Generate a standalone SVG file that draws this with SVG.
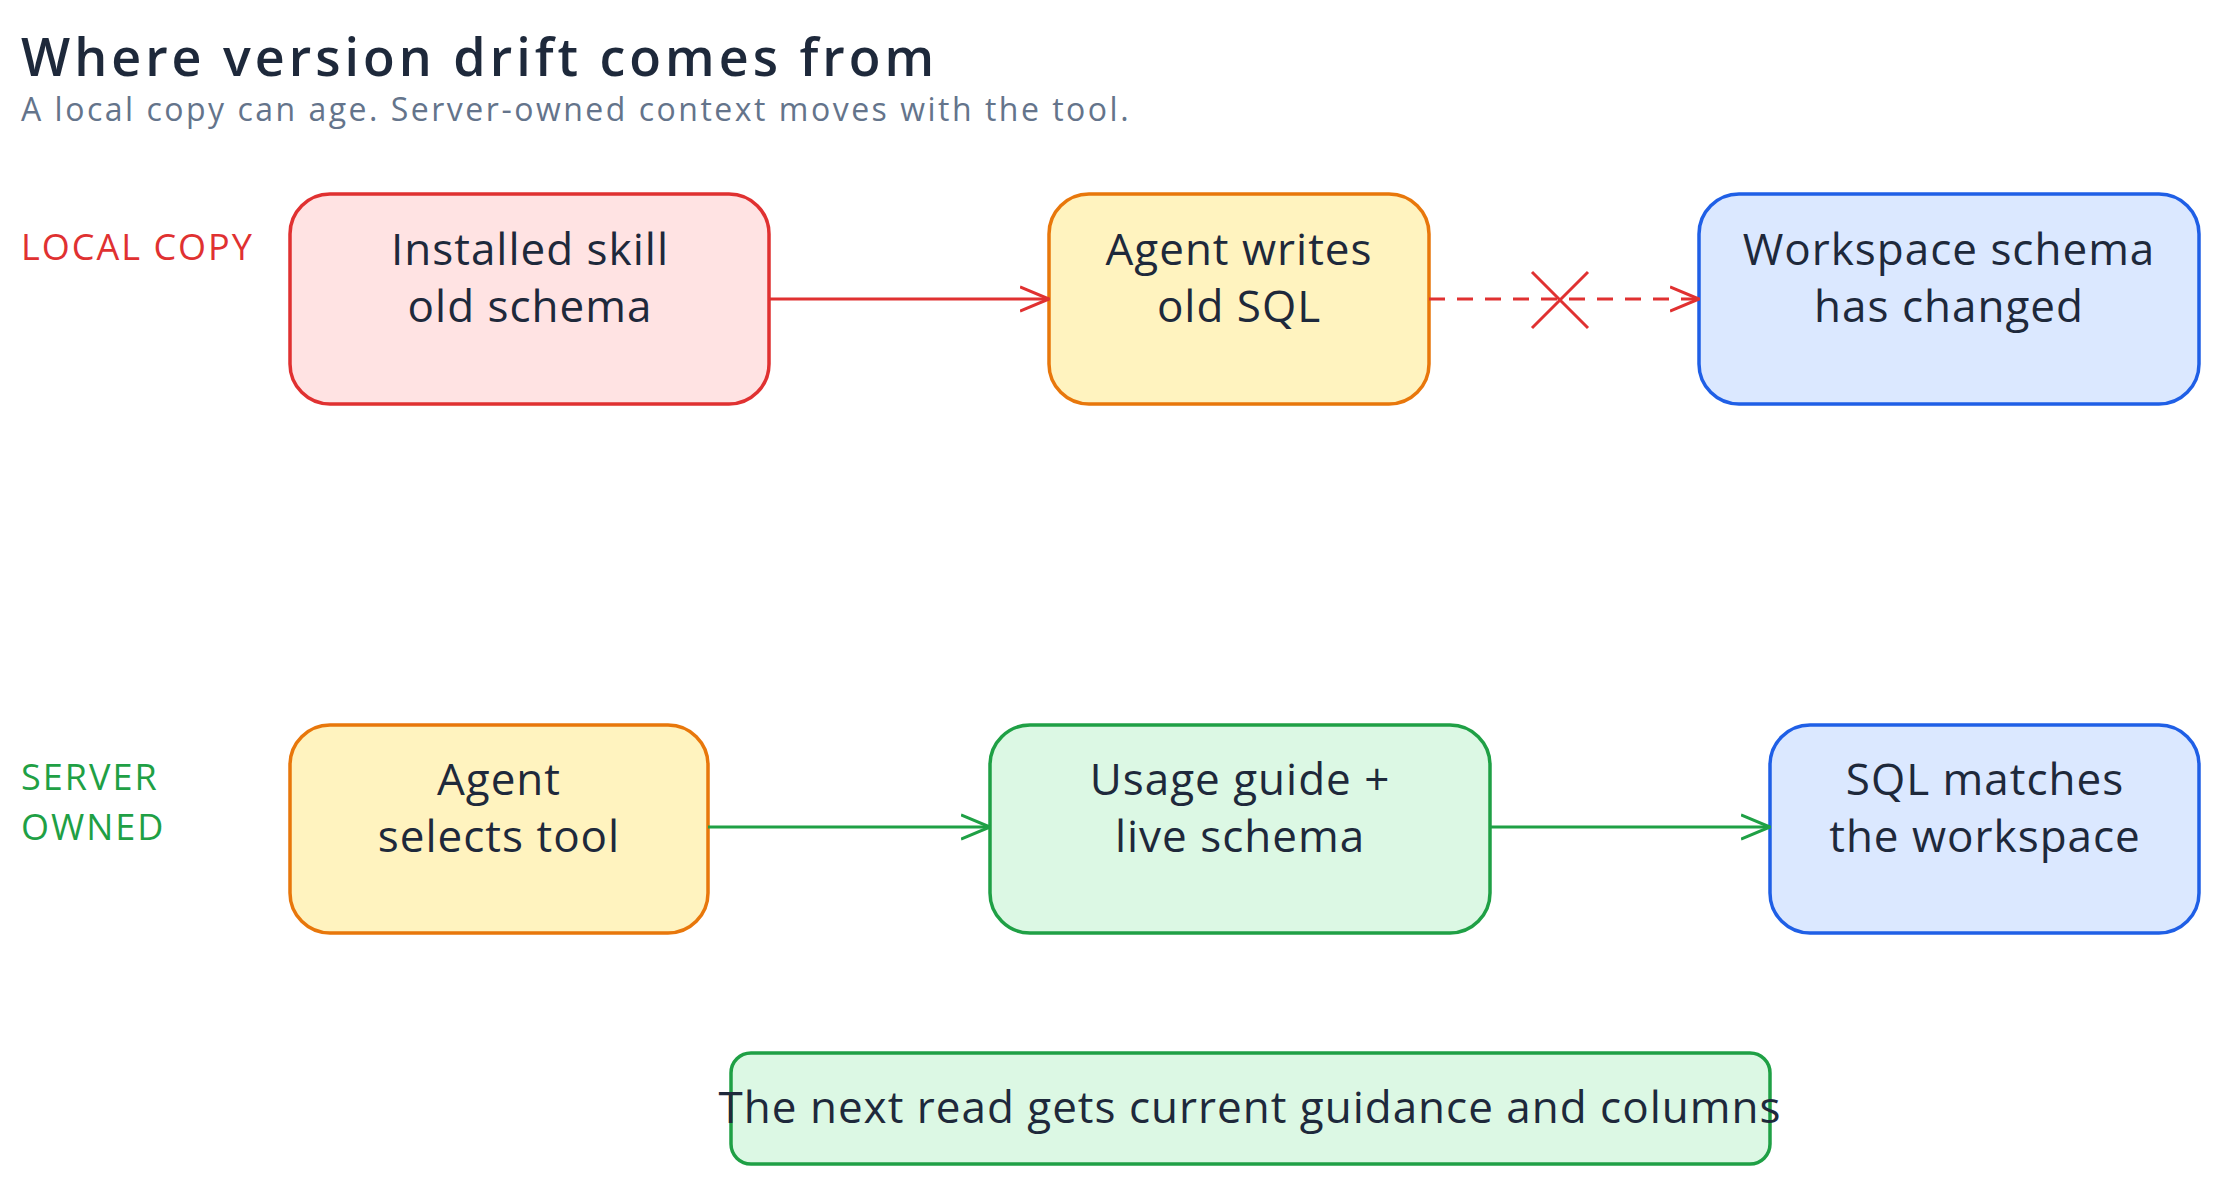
<svg xmlns="http://www.w3.org/2000/svg" width="2220" height="1184" viewBox="0 0 2220 1184">
<style>
text{font-family:"Open Sans","Liberation Sans",sans-serif;fill:#1e293b}
.t{font-size:44px;text-anchor:middle;dominant-baseline:central;letter-spacing:1px}
.box{stroke-width:3.5}
.red{fill:#ffe3e3;stroke:#e03131}
.org{fill:#fff3bf;stroke:#e8770b}
.blu{fill:#dbe8ff;stroke:#1f5fe6}
.grn{fill:#dcf8e4;stroke:#1fa045}
.lbl{font-size:36px;letter-spacing:2px}
.c{fill:none;stroke-width:3}
</style>
<defs>
<marker id="ar2" viewBox="0 0 30 30" refX="29" refY="15" markerWidth="30" markerHeight="30" markerUnits="userSpaceOnUse" orient="auto"><path d="M0 3L29 15L0 27" fill="none" stroke="context-stroke" stroke-width="3"/></marker>
</defs>
<text x="21" y="76" font-size="52" font-weight="600" letter-spacing="4">Where version drift comes from</text>
<text x="21" y="121" font-size="32" letter-spacing="2.5" style="fill:#64748b">A local copy can age. Server-owned context moves with the tool.</text>
<text x="21" y="260" class="lbl" style="fill:#e03131">LOCAL COPY</text>
<text x="21" y="790" class="lbl" style="fill:#1fa045">SERVER</text>
<text x="21" y="840" class="lbl" style="fill:#1fa045">OWNED</text>
<g id="n1"><rect class="box red" x="290" y="194" width="479" height="210" rx="40"/><text class="t" x="530" y="248">Installed skill</text><text class="t" x="530" y="305">old schema</text></g>
<g id="n2"><rect class="box org" x="1049" y="194" width="380" height="210" rx="40"/><text class="t" x="1239" y="248">Agent writes</text><text class="t" x="1239" y="305">old SQL</text></g>
<g id="n3"><rect class="box blu" x="1699" y="194" width="500" height="210" rx="40"/><text class="t" x="1949" y="248">Workspace schema</text><text class="t" x="1949" y="305">has changed</text></g>
<g id="n4"><rect class="box org" x="290" y="725" width="418" height="208" rx="40"/><text class="t" x="499" y="778">Agent</text><text class="t" x="499" y="835">selects tool</text></g>
<g id="n5"><rect class="box grn" x="990" y="725" width="500" height="208" rx="40"/><text class="t" x="1240" y="778">Usage guide +</text><text class="t" x="1240" y="835">live schema</text></g>
<g id="n6"><rect class="box blu" x="1770" y="725" width="429" height="208" rx="40"/><text class="t" x="1985" y="778">SQL matches</text><text class="t" x="1985" y="835">the workspace</text></g>
<g id="n7"><rect class="box grn" x="731" y="1053" width="1039" height="111" rx="20"/><text class="t" x="1250" y="1106">The next read gets current guidance and columns</text></g>
<g id="connectors">
<path class="c" d="M769 299H1049" stroke="#e03131" marker-end="url(#ar2)"/>
<path class="c" d="M1429 299H1699" stroke="#e03131" stroke-dasharray="16 12" marker-end="url(#ar2)"/>
<path class="c" d="M1532 272L1588 328M1588 272L1532 328" stroke="#e03131"/>
<path class="c" d="M708 827H990" stroke="#1fa045" marker-end="url(#ar2)"/>
<path class="c" d="M1490 827H1770" stroke="#1fa045" marker-end="url(#ar2)"/>
</g>
</svg>
